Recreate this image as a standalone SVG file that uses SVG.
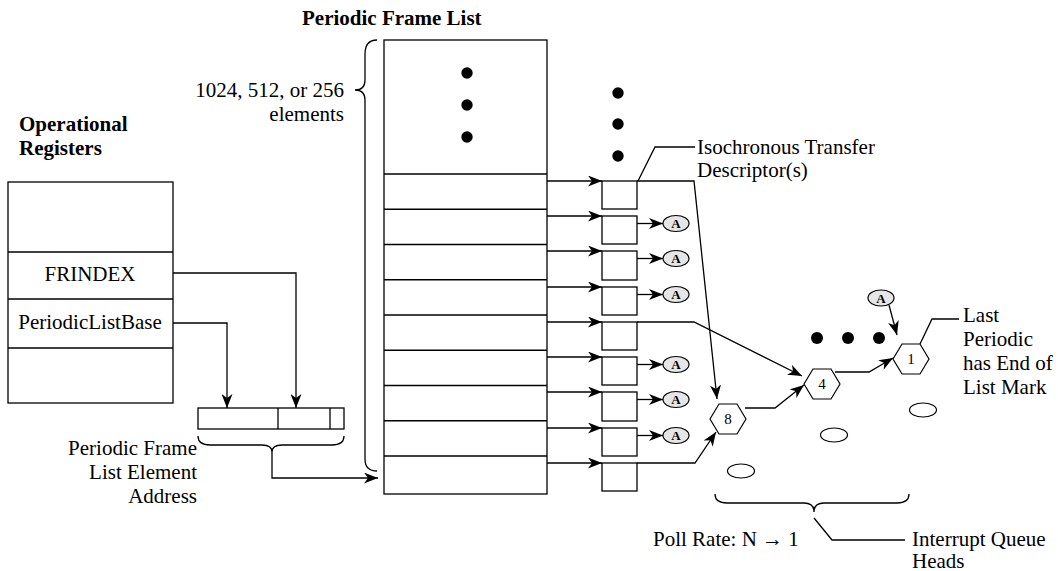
<svg xmlns="http://www.w3.org/2000/svg" width="1058" height="571" viewBox="0 0 1058 571">
<style>
  .ln{fill:none;stroke:#000;stroke-width:1.3}
  .bx{fill:#fff;stroke:#000;stroke-width:1.3}
  .t{font-family:"Liberation Serif","Times New Roman",serif;font-size:21px;fill:#000}
  .tb{font-family:"Liberation Serif","Times New Roman",serif;font-size:21px;font-weight:bold;fill:#000}
  .ae{fill:#e6e6e6;stroke:#000;stroke-width:1.2}
  .at{font-family:"Liberation Serif","Times New Roman",serif;font-size:13px;font-weight:bold;fill:#000;text-anchor:middle}
  .hx{fill:#fff;stroke:#000;stroke-width:1.2}
  .ht{font-family:"Liberation Serif","Times New Roman",serif;font-size:15px;fill:#000;text-anchor:middle}
  .el{fill:#fff;stroke:#000;stroke-width:1.2}
</style>
<defs>
  <marker id="arr" viewBox="0 0 14 11" refX="14" refY="5.5" markerWidth="14" markerHeight="11" markerUnits="userSpaceOnUse" orient="auto">
    <path d="M0,0 L14,5.5 L0,11 L4,5.5 z" fill="#000"/>
  </marker>
</defs>
<rect width="1058" height="571" fill="#fff"/>

<!-- titles and labels -->
<text class="tb" x="302" y="25">Periodic Frame List</text>
<text class="tb" x="19" y="131">Operational</text>
<text class="tb" x="19" y="155">Registers</text>
<text class="t" x="344" y="97" text-anchor="end">1024, 512, or 256</text>
<text class="t" x="344" y="121" text-anchor="end">elements</text>
<text class="t" x="197" y="455" text-anchor="end">Periodic Frame</text>
<text class="t" x="197" y="479" text-anchor="end">List Element</text>
<text class="t" x="197" y="503" text-anchor="end">Address</text>
<text class="t" x="697" y="154">Isochronous Transfer</text>
<text class="t" x="697" y="177">Descriptor(s)</text>
<text class="t" x="963" y="322">Last</text>
<text class="t" x="963" y="346">Periodic</text>
<text class="t" x="963" y="370">has End of</text>
<text class="t" x="963" y="394">List Mark</text>
<text class="t" x="653" y="546">Poll Rate: N → 1</text>
<text class="t" x="912" y="546">Interrupt Queue</text>
<text class="t" x="912" y="568">Heads</text>

<!-- Operational registers -->
<g id="registers">
  <rect class="bx" x="8" y="182" width="165" height="221"/>
  <line class="ln" x1="8" y1="252" x2="173" y2="252"/>
  <line class="ln" x1="8" y1="299" x2="173" y2="299"/>
  <line class="ln" x1="8" y1="348" x2="173" y2="348"/>
  <text class="t" x="90" y="281" text-anchor="middle">FRINDEX</text>
  <text class="t" x="90" y="329" text-anchor="middle">PeriodicListBase</text>
</g>

<!-- Address bar -->
<g id="address">
  <rect class="bx" x="198" y="408" width="146" height="21"/>
  <line class="ln" x1="278" y1="408" x2="278" y2="429"/>
  <line class="ln" x1="330" y1="408" x2="330" y2="429"/>
  <path class="ln" d="M198,436 Q198,445 210,445 L262,445 Q272,445 272,452 Q272,445 282,445 L332,445 Q344,445 344,436"/>
</g>

<!-- Frame list -->
<g id="frame-list">
  <rect class="bx" x="384" y="40" width="163" height="454"/>
  <line class="ln" x1="384" y1="174" x2="547" y2="174"/>
  <line class="ln" x1="384" y1="209.25" x2="547" y2="209.25"/>
  <line class="ln" x1="384" y1="244.5" x2="547" y2="244.5"/>
  <line class="ln" x1="384" y1="279.75" x2="547" y2="279.75"/>
  <line class="ln" x1="384" y1="315" x2="547" y2="315"/>
  <line class="ln" x1="384" y1="350.25" x2="547" y2="350.25"/>
  <line class="ln" x1="384" y1="385.5" x2="547" y2="385.5"/>
  <line class="ln" x1="384" y1="420.75" x2="547" y2="420.75"/>
  <line class="ln" x1="384" y1="456" x2="547" y2="456"/>
  <circle cx="467" cy="73" r="5.7"/>
  <circle cx="467" cy="105" r="5.7"/>
  <circle cx="467" cy="137" r="5.7"/>
  <path class="ln" d="M377,40 Q365,40 365,54 L365,80 Q365,90 355,90 Q365,90 365,100 L365,459 Q365,471 377,471"/>
</g>

<!-- transfer descriptor boxes -->
<g id="td-boxes">
  <rect class="bx" x="602" y="181" width="35" height="28"/>
  <rect class="bx" x="602" y="216" width="35" height="28"/>
  <rect class="bx" x="602" y="251" width="35" height="29"/>
  <rect class="bx" x="602" y="287" width="35" height="28"/>
  <rect class="bx" x="602" y="322" width="35" height="28"/>
  <rect class="bx" x="602" y="357" width="35" height="28"/>
  <rect class="bx" x="602" y="392" width="35" height="29"/>
  <rect class="bx" x="602" y="428" width="35" height="28"/>
  <rect class="bx" x="602" y="463" width="35" height="28"/>
  <circle cx="618" cy="93" r="5.7"/>
  <circle cx="618" cy="124" r="5.7"/>
  <circle cx="618" cy="156" r="5.7"/>
</g>

<!-- A nodes -->
<g id="a-nodes">
  <ellipse class="ae" cx="676" cy="223.5" rx="13" ry="8"/><text class="at" x="676" y="228">A</text>
  <ellipse class="ae" cx="676" cy="258.5" rx="13" ry="8"/><text class="at" x="676" y="263">A</text>
  <ellipse class="ae" cx="676" cy="294.5" rx="13" ry="8"/><text class="at" x="676" y="299">A</text>
  <ellipse class="ae" cx="676" cy="364.5" rx="13" ry="8"/><text class="at" x="676" y="369">A</text>
  <ellipse class="ae" cx="676" cy="399.5" rx="13" ry="8"/><text class="at" x="676" y="404">A</text>
  <ellipse class="ae" cx="676" cy="435.5" rx="13" ry="8"/><text class="at" x="676" y="440">A</text>
  <ellipse class="ae" cx="881" cy="298" rx="13" ry="8"/><text class="at" x="881" y="302.5">A</text>
</g>

<!-- Queue heads -->
<g id="qh8">
  <polygon class="hx" points="710,419 719,404 737,404 746,419 737,434 719,434"/>
  <text class="ht" x="728" y="424">8</text>
</g>
<g id="qh4">
  <polygon class="hx" points="804,384 813,369 831,369 840,384 831,399 813,399"/>
  <text class="ht" x="822" y="389">4</text>
</g>
<g id="qh1">
  <polygon class="hx" points="893,359 902,344 920,344 929,359 920,374 902,374"/>
  <text class="ht" x="911" y="364">1</text>
</g>
<g id="qh-empty">
  <ellipse class="el" cx="923" cy="410" rx="13.5" ry="7"/>
  <ellipse class="el" cx="834" cy="435" rx="13.5" ry="7"/>
  <ellipse class="el" cx="741" cy="471" rx="13.5" ry="7"/>
  <circle cx="817" cy="338" r="6"/>
  <circle cx="848" cy="338" r="6"/>
  <circle cx="879" cy="338" r="6"/>
  <path class="ln" d="M715,494 Q715,503 727,503 L804,503 Q814,503 814,512 Q814,503 824,503 L897,503 Q909,503 909,494"/>
</g>

<!-- connectors -->
<g id="connectors">
  <path class="ln" d="M173,273 L296,273 L296,408" marker-end="url(#arr)"/>
  <path class="ln" d="M173,323 L227,323 L227,408" marker-end="url(#arr)"/>
  <path class="ln" d="M272,452 L272,478 L378,478" marker-end="url(#arr)"/>

  <line class="ln" x1="547" y1="181" x2="602" y2="181" marker-end="url(#arr)"/>
  <line class="ln" x1="547" y1="216" x2="602" y2="216" marker-end="url(#arr)"/>
  <line class="ln" x1="547" y1="251" x2="602" y2="251" marker-end="url(#arr)"/>
  <line class="ln" x1="547" y1="287" x2="602" y2="287" marker-end="url(#arr)"/>
  <line class="ln" x1="547" y1="322" x2="602" y2="322" marker-end="url(#arr)"/>
  <line class="ln" x1="547" y1="357" x2="602" y2="357" marker-end="url(#arr)"/>
  <line class="ln" x1="547" y1="392" x2="602" y2="392" marker-end="url(#arr)"/>
  <line class="ln" x1="547" y1="428" x2="602" y2="428" marker-end="url(#arr)"/>
  <line class="ln" x1="547" y1="463" x2="602" y2="463" marker-end="url(#arr)"/>

  <line class="ln" x1="637" y1="223.5" x2="663" y2="223.5" marker-end="url(#arr)"/>
  <line class="ln" x1="637" y1="258.5" x2="663" y2="258.5" marker-end="url(#arr)"/>
  <line class="ln" x1="637" y1="294.5" x2="663" y2="294.5" marker-end="url(#arr)"/>
  <line class="ln" x1="637" y1="364.5" x2="663" y2="364.5" marker-end="url(#arr)"/>
  <line class="ln" x1="637" y1="399.5" x2="663" y2="399.5" marker-end="url(#arr)"/>
  <line class="ln" x1="637" y1="435.5" x2="663" y2="435.5" marker-end="url(#arr)"/>

  <path class="ln" d="M637,181 L694,181 L717,399" marker-end="url(#arr)"/>
  <path class="ln" d="M637,322 L694,322 L802,376" marker-end="url(#arr)"/>
  <path class="ln" d="M637,463 L695,463 L716,432" marker-end="url(#arr)"/>
  <path class="ln" d="M745,408 L775,408 L804,385" marker-end="url(#arr)"/>
  <path class="ln" d="M835,372 L869,372 L893,358" marker-end="url(#arr)"/>
  <path class="ln" d="M889,305 L897,335" marker-end="url(#arr)"/>

  <path class="ln" d="M638,181 L655,147 L695,147"/>
  <path class="ln" d="M920,344 L932,319 L959,319"/>
  <path class="ln" d="M814,518 L832,540 L905,540"/>
</g>
</svg>
